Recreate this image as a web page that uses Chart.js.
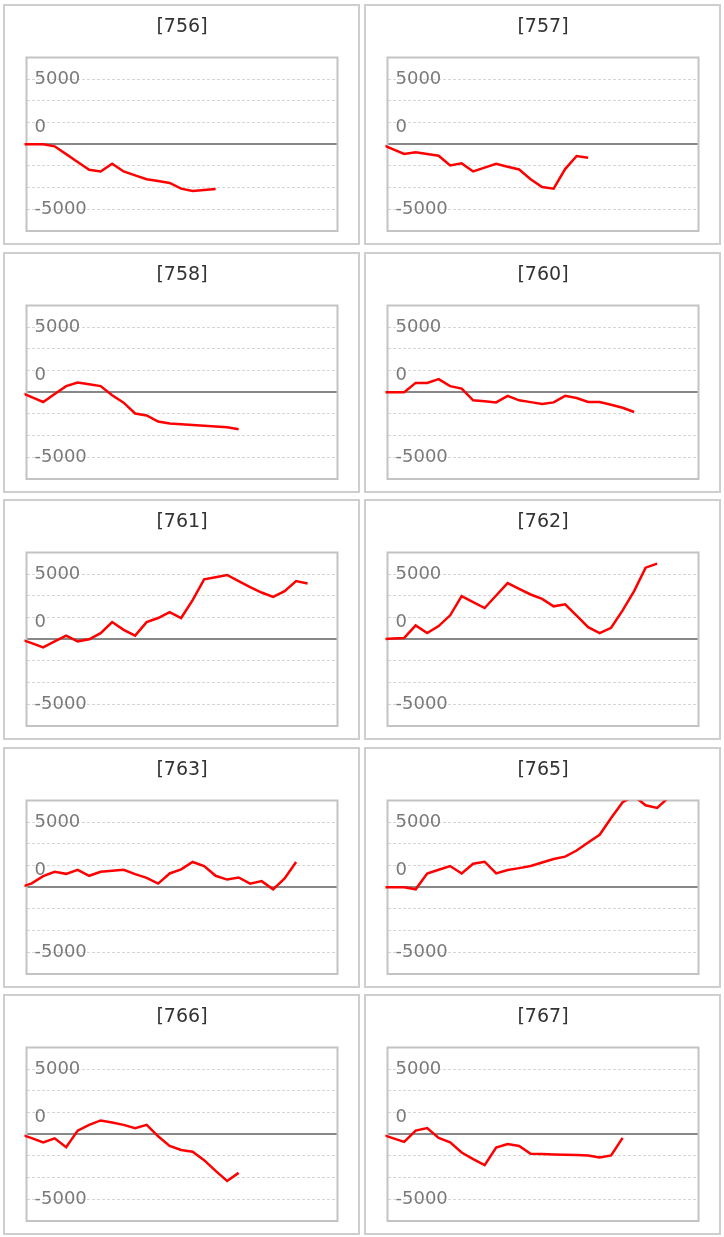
<!DOCTYPE html>
<html>
<head>
<meta charset="utf-8">
<script src="https://cdn.jsdelivr.net/npm/chart.js@4.4.1/dist/chart.umd.min.js"></script>
<style>
html,body{margin:0;padding:0;background:#fff;}
body{width:724px;height:1237px;position:relative;overflow:hidden;}
.panel{position:absolute;box-sizing:border-box;width:357px;height:241px;border:2px solid #cecece;background:#fff;}
.panel canvas{position:absolute;left:0;top:0;}
</style>
</head>
<body>
<script>
// ---- data ----
const machines = ['756', '757', '758', '760', '761', '762', '763', '765', '766', '767'];

const s756 = [0, 0, 0, -160, -760, -1360, -1960, -2090, -1500, -2090, -2390, -2690, -2830, -2970, -3410, -3590, -3510, -3440];
const s757 = [0, -370, -750, -620, -750, -880, -1630, -1470, -2090, -1800, -1500, -1730, -1940, -2690, -3280, -3410, -1910, -900, -1030];
const s758 = [0, -370, -750, -140, 470, 750, 610, 470, -230, -800, -1630, -1780, -2250, -2400, -2460, -2520, -2570, -2630, -2690, -2840];
const s760 = [0, 0, 0, 720, 720, 1010, 470, 280, -620, -700, -780, -280, -620, -760, -900, -780, -280, -440, -750, -750, -960, -1190, -1520];
const s761 = [0, -300, -620, -160, 280, -160, 0, 470, 1320, 720, 280, 1320, 1630, 2090, 1630, 3000, 4600, 4760, 4940, 4470, 4010, 3590, 3260, 3700, 4470, 4290];
const s762 = [0, 50, 100, 1060, 470, 1010, 1840, 3310, 2860, 2400, 3360, 4320, 3880, 3440, 3100, 2530, 2690, 1810, 930, 470, 880, 2220, 3700, 5500, 5810];
const s763 = [0, 300, 850, 1190, 1030, 1340, 880, 1190, 1270, 1340, 1010, 720, 280, 1060, 1370, 1940, 1630, 880, 590, 750, 280, 470, -160, 670, 1940];
const s765 = [0, 0, 0, -160, 1060, 1340, 1630, 1060, 1810, 1960, 1060, 1320, 1470, 1630, 1900, 2170, 2350, 2820, 3440, 4030, 5320, 6540, 7000, 6300, 6100, 6900];
const s766 = [0, -300, -620, -310, -1000, 280, 720, 1060, 900, 720, 470, 720, -160, -900, -1210, -1340, -1990, -2820, -3590, -2970];
const s767 = [0, -300, -590, 280, 470, -280, -620, -1400, -1910, -2380, -1030, -750, -900, -1500, -1520, -1550, -1580, -1600, -1630, -1780, -1630, -280];

const seriesList = [s756, s757, s758, s760, s761, s762, s763, s765, s766, s767];

// y axis: gridlines every 5000/3, labels shown on three of them
const GRID_STEP = 5000 / 3;
const gridLevels = [-4, -3, -2, -1, 0, 1, 2, 3, 4];
const yTickLabels = ['5000', '0', '-5000'];
const yTickLevels = [3, 1, -3];

// x axis window (in sample index units)
const X_MIN = 0.55;
const X_MAX = 27.6;

// ---- layout ----
const COLS = 2;
const PANEL_W = 357, PANEL_H = 241, BORDER = 2;
const COL_X = [3, 364];
const ROW_Y0 = 4, ROW_PITCH = 247.5;

const boxPlugin = {
  id: 'plotBox',
  beforeDatasetsDraw(chart) {
    const a = chart.chartArea, ctx = chart.ctx;
    ctx.save();
    ctx.strokeStyle = '#c3c3c3';
    ctx.lineWidth = 2;
    ctx.strokeRect(a.left, a.top, a.right - a.left, a.bottom - a.top);
    ctx.restore();
  }
};

function labelFor(value, onlyLevels) {
  const lvl = Math.round(value / GRID_STEP);
  const j = yTickLevels.indexOf(lvl);
  return (j >= 0 && onlyLevels.includes(lvl)) ? yTickLabels[j] : '';
}

function yAxis(showGrid, levels, offset) {
  return {
    type: 'linear',
    position: 'left',
    min: gridLevels[0] * GRID_STEP,
    max: gridLevels[gridLevels.length - 1] * GRID_STEP,
    afterBuildTicks(scale) {
      scale.ticks = gridLevels.map(k => ({ value: k * GRID_STEP }));
    },
    afterFit(scale) {
      scale.width = 0;
      scale.paddingTop = 0;
      scale.paddingBottom = 0;
    },
    border: {
      display: false,
      dash: ctx => (ctx.tick && ctx.tick.value === 0) ? [] : [3, 2]
    },
    grid: {
      display: showGrid,
      drawTicks: false,
      color: ctx => {
        if (!ctx.tick) return 'rgba(0,0,0,0)';
        const lvl = Math.round(ctx.tick.value / GRID_STEP);
        if (lvl === 0) return '#888888';
        if (Math.abs(lvl) === 4) return 'rgba(0,0,0,0)';
        return '#d6d6d6';
      },
      lineWidth: ctx => (ctx.tick && ctx.tick.value === 0) ? 2 : 1
    },
    ticks: {
      autoSkip: false,
      mirror: true,
      padding: 8,
      labelOffset: offset,
      color: '#7a7a7a',
      font: { family: 'DejaVu Sans', size: 18 },
      callback: (value) => labelFor(value, levels)
    }
  };
}

machines.forEach((id, i) => {
  const col = i % COLS, row = Math.floor(i / COLS);
  const panel = document.createElement('div');
  panel.className = 'panel';
  panel.style.left = COL_X[col] + 'px';
  panel.style.top = Math.round(ROW_Y0 + row * ROW_PITCH) + 'px';
  const canvas = document.createElement('canvas');
  canvas.width = PANEL_W - 2 * BORDER;
  canvas.height = PANEL_H - 2 * BORDER;
  panel.appendChild(canvas);
  document.body.appendChild(panel);

  const values = seriesList[i];
  new Chart(canvas, {
    type: 'line',
    data: {
      datasets: [{
        data: values.map((v, k) => ({ x: k, y: v })),
        yAxisID: 'y',
        borderColor: '#ff0000',
        borderWidth: 2.5,
        pointRadius: 0,
        pointHoverRadius: 0,
        tension: 0,
        fill: false,
        clip: { left: 2, top: 0, right: 0, bottom: 0 }
      }]
    },
    options: {
      responsive: false,
      animation: false,
      devicePixelRatio: 1,
      events: [],
      layout: { padding: { left: 21.5, right: 20.5, top: 0, bottom: 12 } },
      plugins: {
        legend: { display: false },
        tooltip: { enabled: false },
        title: {
          display: true,
          text: '[' + id + ']',
          color: '#333333',
          font: { family: 'DejaVu Sans', size: 19, weight: 'normal' },
          padding: { top: 9.6, bottom: 19.1 }
        }
      },
      scales: {
        x: { type: 'linear', display: false, min: X_MIN, max: X_MAX },
        y: yAxis(true, [3, -3], 0),
        yZeroLabel: yAxis(false, [1], 4.5)
      }
    },
    plugins: [boxPlugin]
  });
});
</script>
</body>
</html>
